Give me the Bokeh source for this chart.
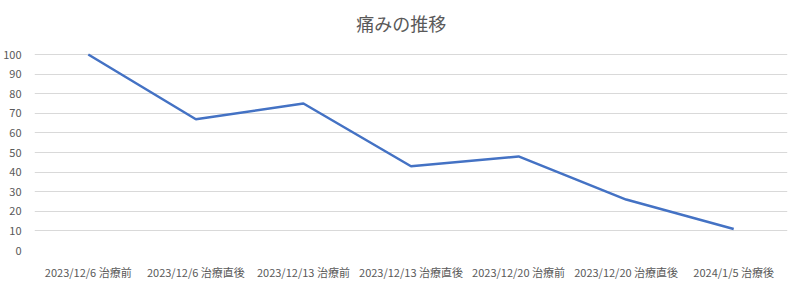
from bokeh.plotting import figure
from bokeh.models import FactorRange, Range1d, ColumnDataSource, FixedTicker, Label
from bokeh.embed import file_html
from bokeh.resources import INLINE

title_text = "痛みの推移"
categories = ["2023/12/6 治療前", "2023/12/6 治療直後", "2023/12/13 治療前",
              "2023/12/13 治療直後", "2023/12/20 治療前", "2023/12/20 治療直後",
              "2024/1/5 治療後"]
pain = [100, 67, 75, 43, 48, 26, 11]
y_ticks = [0, 10, 20, 30, 40, 50, 60, 70, 80, 90, 100]

src = ColumnDataSource(dict(x=categories, y=pain))

FONT = "Noto Sans CJK JP"
GRAY = "#595959"

# frame extends above the 100 gridline to hold the title (no ticks there)
p = figure(width=800, height=285, x_range=FactorRange(*categories, range_padding=0),
           y_range=Range1d(0, 123.5), output_backend="svg", toolbar_location=None)
p.min_border_left = 34
p.min_border_right = 13
p.min_border_top = 8
p.min_border_bottom = 35
p.outline_line_color = None
p.background_fill_color = "white"
p.border_fill_color = "white"

p.add_layout(Label(x=3.41, y=116.3, text=title_text, text_font=FONT,
                   text_font_size="18px", text_color=GRAY,
                   text_align="center", text_baseline="middle"))

p.line("x", "y", source=src, line_color="#4472C4", line_width=2.5)

p.xgrid.grid_line_color = None
p.ygrid.grid_line_color = "#d9d9d9"
p.ygrid.grid_line_width = 1
p.yaxis.ticker = FixedTicker(ticks=y_ticks)

for ax in (p.xaxis[0], p.yaxis[0]):
    ax.axis_line_color = None
    ax.major_tick_line_color = None
    ax.minor_tick_line_color = None
    ax.major_label_text_font = FONT
    ax.major_label_text_font_size = "11px"
    ax.major_label_text_color = GRAY
p.xaxis.major_label_standoff = 7
p.yaxis.major_label_standoff = 7

open("out.html", "w").write(file_html(p, INLINE))
